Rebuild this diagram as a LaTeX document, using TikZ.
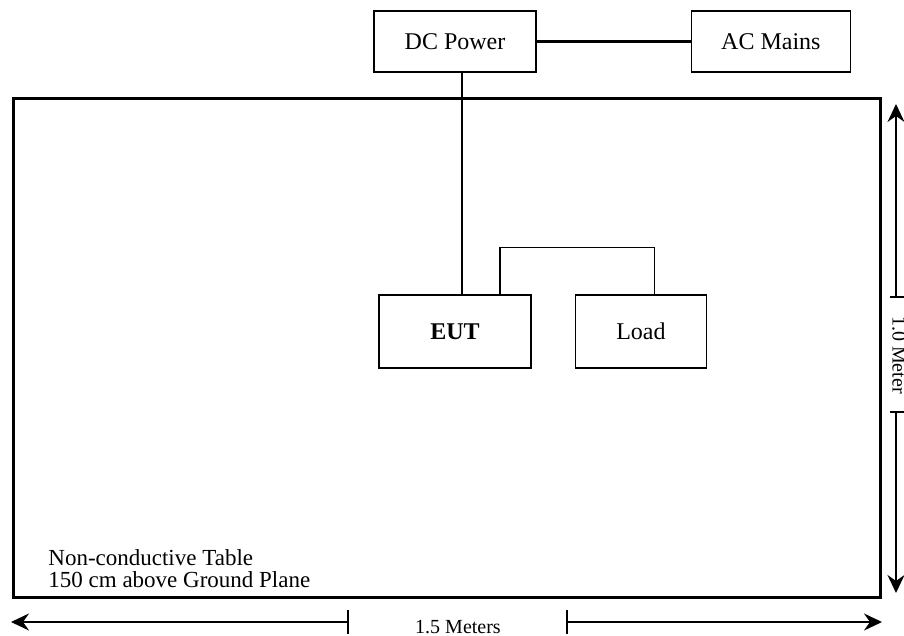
\documentclass[tikz,border=0pt]{standalone}
\usepackage{fontspec}
\setmainfont{Liberation Serif}
\usetikzlibrary{arrows.meta,positioning}

\begin{document}
\begin{tikzpicture}[
    x=0.5pt, y=-0.5pt,
    box/.style={draw, line width=0.7pt, minimum width=#1, minimum height=30.5pt,
                inner sep=0pt, font=\fontsize{12}{14}\selectfont},
    unit/.style={draw, line width=0.7pt, minimum width=#1, minimum height=36.5pt,
                inner sep=0pt, font=\fontsize{12}{14}\selectfont},
    wire/.style={line width=0.6pt},
    dimarrow/.style={-{Stealth[length=9pt, width=8.5pt, inset=3pt]}, line width=0.9pt},
    dimtick/.style={line width=0.8pt},
    dimlabel/.style={inner sep=0pt, font=\fontsize{10}{12}\selectfont}
]
\useasboundingbox (0,0) rectangle (904,636);

%% Table
\node[draw, line width=1.5pt, minimum width=433.5pt, minimum height=249pt] (table) at (446.5,348) {};
\node[anchor=west, align=left, inner sep=0pt, font=\fontsize{11.5}{11}\selectfont] (tabletext) at (48,569)
    {Non-conductive Table\\150 cm above Ground Plane};

%% Supply
\node[box=81pt] (dcpower) at (455,41.5) {DC Power};
\node[box=79.5pt, right=77pt of dcpower] (acmains) {AC Mains};

%% Equipment on the table
\node[unit=76pt] (eut) at (455,331.5) {\textbf{EUT}};
\node[unit=65.5pt, right=21.5pt of eut] (load) {Load};

%% Wiring
\draw[line width=1.5pt] (dcpower.east) -- (acmains.west);
\draw[wire] ([xshift=3.5pt]dcpower.south) -- ([xshift=3.5pt]dcpower.south |- eut.north);
\draw[wire] ([xshift=22.5pt]eut.north) -- ++(0,23.5pt) -| ([xshift=6.75pt]load.north);

%% Width dimension
\node[dimlabel] (wlabel) at (458,627) {1.5 Meters};
\coordinate (wleft) at (348,622);
\coordinate (wright) at (567,622);
\draw[dimarrow] (wleft) -- (11,622);
\draw[dimarrow] (wright) -- (882,622);
\draw[dimtick] ([yshift=6pt]wleft) -- ([yshift=-6pt]wleft);
\draw[dimtick] ([yshift=6pt]wright) -- ([yshift=-6pt]wright);

%% Height dimension
\node[dimlabel, rotate=-90] (hlabel) at (899,355) {1.0 Meter};
\coordinate (htop) at (896,297);
\coordinate (hbottom) at (896,412);
\draw[dimarrow] (htop) -- (896,104);
\draw[dimarrow] (hbottom) -- (896,593);
\draw[dimtick] ([xshift=-3pt]htop) -- ([xshift=4pt]htop);
\draw[dimtick] ([xshift=-3pt]hbottom) -- ([xshift=4pt]hbottom);

\end{tikzpicture}
\end{document}
